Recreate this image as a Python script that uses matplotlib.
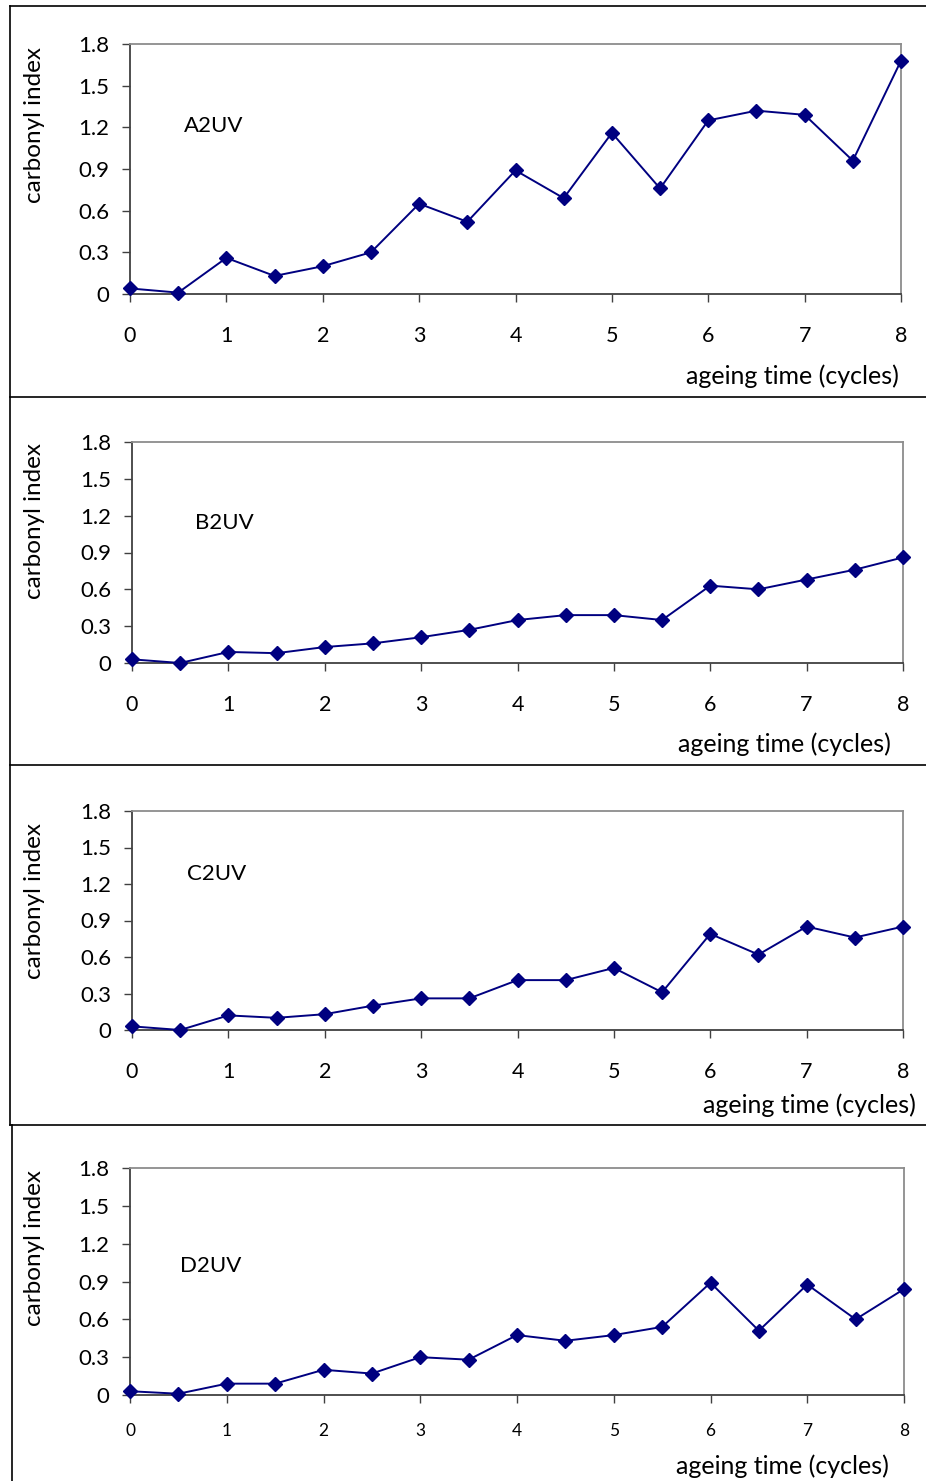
import matplotlib
matplotlib.use("Agg")
import matplotlib.pyplot as plt
from matplotlib.lines import Line2D

plt.rcParams['font.family'] = ['Lato', 'DejaVu Sans']

# ageing time (cycles) and carbonyl index of the four samples
cycles = [0, 0.5, 1, 1.5, 2, 2.5, 3, 3.5, 4, 4.5, 5, 5.5, 6, 6.5, 7, 7.5, 8]
a2uv = [0.04, 0.01, 0.26, 0.13, 0.20, 0.30, 0.65, 0.52, 0.89, 0.69, 1.16, 0.76,
        1.25, 1.32, 1.29, 0.96, 1.68]
b2uv = [0.03, 0.00, 0.09, 0.08, 0.13, 0.16, 0.21, 0.27, 0.35, 0.39, 0.39, 0.35,
        0.63, 0.60, 0.68, 0.76, 0.86]
c2uv = [0.03, 0.00, 0.12, 0.10, 0.13, 0.20, 0.26, 0.26, 0.41, 0.41, 0.51, 0.31,
        0.79, 0.62, 0.85, 0.76, 0.85]
d2uv = [0.03, 0.01, 0.09, 0.09, 0.20, 0.17, 0.30, 0.28, 0.475, 0.43, 0.475, 0.54,
        0.89, 0.51, 0.876, 0.60, 0.84]

names = ["A2UV", "B2UV", "C2UV", "D2UV"]
series = [a2uv, b2uv, c2uv, d2uv]
yticks = [0, 0.3, 0.6, 0.9, 1.2, 1.5, 1.8]
ytick_labels = ["0", "0.3", "0.6", "0.9", "1.2", "1.5", "1.8"]
xticks = [0, 1, 2, 3, 4, 5, 6, 7, 8]

W, H = 926, 1481
fig = plt.figure(figsize=(W / 100, H / 100), dpi=100)

def fx(x):
    return x / W

def fy(y):
    return 1 - y / H

# pixel boxes of each plot area: left, right, top, bottom
boxes = [(130, 901, 44, 294), (132, 903, 442, 663),
         (132, 903, 811, 1030), (130, 904, 1168, 1395)]
name_pos = [(184, 126), (195, 523), (187, 874), (180, 1266)]
ylab_pos = [(35, 125), (35, 521), (35, 901), (35, 1248)]
xlab_pos = [(899, 376), (891, 744), (916, 1105), (889, 1466)]
xtick_size = [15.5, 15.5, 15.5, 12.5]
xtick_pad = [17, 17, 17, 14]

for i in range(4):
    l, r, t, b = boxes[i]
    ax = fig.add_axes([fx(l), fy(b), (r - l) / W, (b - t) / H])
    ax.plot(cycles, series[i], color="#000080", lw=1.4, marker="D",
            markersize=7.5, clip_on=False, zorder=3)
    ax.set_xlim(0, 8)
    ax.set_ylim(0, 1.8)
    ax.set_yticks(yticks)
    ax.set_yticklabels(ytick_labels, fontsize=16)
    ax.set_xticks(xticks)
    ax.set_xticklabels([str(v) for v in xticks], fontsize=xtick_size[i])
    ax.tick_params(axis="y", direction="out", length=6, width=1,
                   color="#404040", pad=9)
    ax.tick_params(axis="x", direction="out", length=6, width=1,
                   color="#404040", pad=xtick_pad[i])
    for side in ["top", "right"]:
        ax.spines[side].set_color("#8c8c8c")
        ax.spines[side].set_linewidth(1.3)
    for side in ["left", "bottom"]:
        ax.spines[side].set_color("#404040")
        ax.spines[side].set_linewidth(1.3)

    fig.text(fx(name_pos[i][0]), fy(name_pos[i][1]), names[i], fontsize=16,
             ha="left", va="center")
    fig.text(fx(ylab_pos[i][0]), fy(ylab_pos[i][1]), "carbonyl index",
             fontsize=17.5, rotation=90, ha="center", va="center")
    fig.text(fx(xlab_pos[i][0]), fy(xlab_pos[i][1]), "ageing time (cycles)",
             fontsize=18, ha="right", va="center")

# frames around each chart
for y in [6, 397, 765, 1125]:
    fig.add_artist(Line2D([fx(10), 1], [fy(y), fy(y)], color="black", lw=1.2))
fig.add_artist(Line2D([fx(10), fx(10)], [fy(6), fy(1125)], color="black", lw=1.2))
fig.add_artist(Line2D([fx(12), fx(12)], [fy(1125), 0], color="black", lw=1.2))

fig.savefig("out.png", dpi=100)
